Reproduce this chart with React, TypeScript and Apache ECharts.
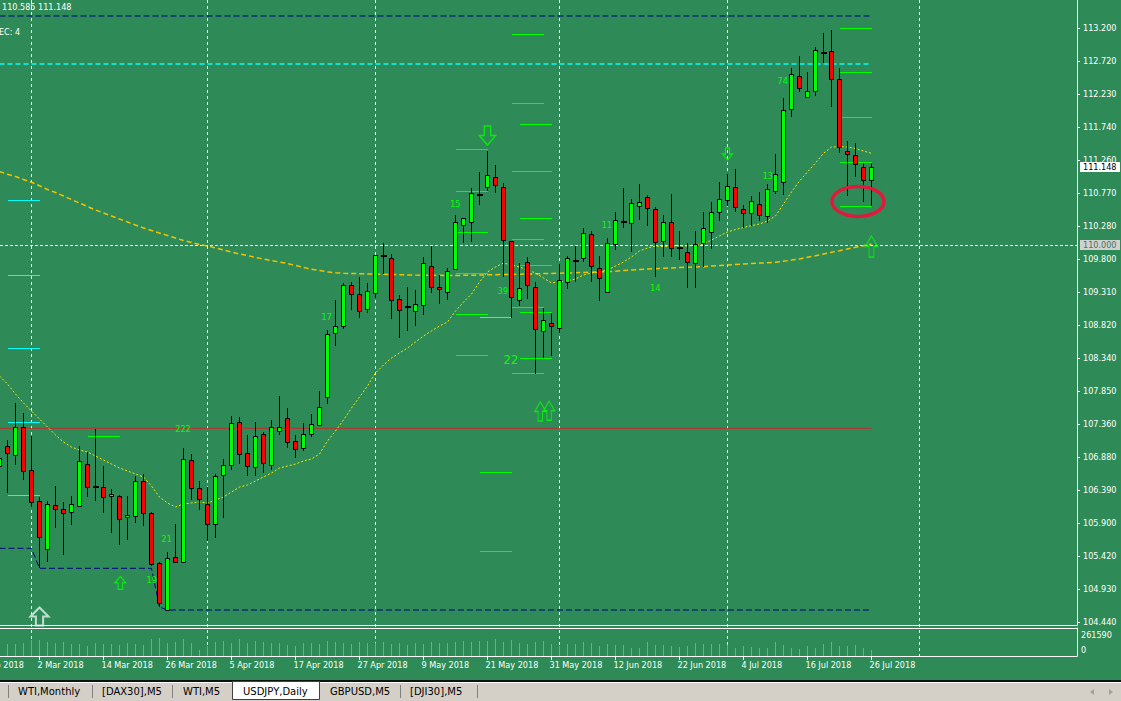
import { useEffect, useRef } from "react";
import * as echarts from "echarts";

// ---------- DATA (bar index k: -1 = 23 Feb 2018 ... 108 = 26 Jul 2018) ----------
const FIRST_BAR = -1;

const opens = [
  106.735, 107.040, 106.897, 107.316, 106.686, 106.229, 105.516, 106.165, 106.106, 106.062,
  106.155, 106.770, 106.440, 106.440, 106.292, 106.303, 105.988, 106.012, 106.524, 106.056,
  105.310, 104.621, 105.398, 105.334, 106.833, 106.416, 106.185, 105.885, 106.602, 106.755,
  107.389, 106.932, 106.735, 107.217, 106.770, 107.271, 107.448, 107.114, 107.000, 107.212,
  107.339, 107.758, 108.702, 108.814, 109.414, 109.277, 109.056, 109.292, 109.846, 109.808,
  109.203, 109.090, 109.026, 109.115, 109.690, 109.380, 109.321, 109.646, 110.289, 110.339,
  110.737, 110.849, 111.002, 110.855, 110.058, 109.183, 109.749, 109.380, 108.725, 108.849,
  108.784, 109.454, 109.768, 109.808, 110.162, 109.660, 109.301, 110.014, 110.339, 110.324,
  110.569, 110.707, 110.530, 110.053, 110.339, 109.964, 109.896, 109.728, 110.023, 110.191,
  110.480, 110.657, 110.855, 110.535, 110.471, 110.604, 110.421, 110.805, 110.937, 112.005,
  112.496, 112.191, 112.265, 112.840, 112.865, 112.448, 111.386, 111.327, 111.150, 110.952,
];
const highs = [
  106.951, 107.128, 107.670, 107.522, 107.187, 106.292, 106.229, 106.450, 106.214, 106.303,
  107.040, 106.956, 107.291, 106.745, 106.406, 106.310, 106.303, 106.597, 106.627, 106.071,
  105.329, 105.472, 105.890, 107.006, 106.922, 106.524, 106.431, 106.627, 106.844, 107.482,
  107.472, 107.202, 107.394, 107.251, 107.423, 107.777, 107.596, 107.202, 107.384, 107.512,
  107.846, 108.751, 109.193, 109.448, 109.454, 109.532, 109.439, 109.860, 110.029, 109.871,
  109.262, 109.380, 109.336, 109.823, 109.994, 109.562, 109.660, 110.442, 110.400, 110.849,
  111.076, 111.395, 111.184, 110.914, 110.060, 109.734, 109.823, 109.454, 109.070, 109.006,
  109.724, 109.842, 109.989, 110.250, 110.210, 109.842, 110.103, 110.486, 110.845, 110.678,
  110.904, 110.741, 110.560, 110.446, 110.756, 110.210, 110.029, 110.210, 110.491, 110.643,
  110.929, 111.051, 111.125, 110.594, 110.727, 110.786, 110.904, 111.346, 112.167, 112.610,
  112.791, 112.551, 112.919, 113.126, 113.175, 112.610, 111.538, 111.504, 111.209, 111.209,
];
const lows = [
  106.686, 106.351, 106.760, 106.538, 106.145, 105.236, 105.334, 105.835, 105.432, 105.875,
  106.136, 106.292, 106.233, 106.047, 105.761, 105.580, 105.654, 105.909, 105.865, 105.270,
  104.666, 104.621, 105.310, 105.310, 106.244, 106.096, 105.639, 105.679, 105.974, 106.686,
  106.770, 106.597, 106.597, 106.637, 106.686, 107.202, 107.006, 106.867, 106.970, 107.168,
  107.339, 107.655, 108.519, 108.770, 109.045, 108.932, 109.006, 109.222, 109.581, 108.913,
  108.637, 108.736, 108.809, 108.976, 109.301, 109.134, 109.193, 109.635, 110.029, 110.053,
  110.594, 110.800, 110.775, 109.536, 108.932, 109.104, 109.203, 108.102, 108.333, 108.367,
  108.711, 109.355, 109.463, 109.758, 109.463, 109.183, 109.290, 109.930, 110.259, 109.905,
  110.373, 110.284, 109.536, 109.831, 109.831, 109.783, 109.365, 109.365, 109.684, 109.945,
  110.362, 110.579, 110.491, 110.250, 110.284, 110.358, 110.333, 110.756, 110.741, 111.896,
  112.265, 112.190, 112.201, 112.684, 112.044, 111.365, 110.727, 111.011, 110.642, 110.585,
];
const closes = [
  106.858, 106.932, 107.316, 106.661, 106.219, 105.702, 106.180, 106.106, 106.047, 106.180,
  106.819, 106.431, 106.440, 106.292, 106.328, 105.959, 106.022, 106.524, 106.047, 105.310,
  104.720, 105.384, 105.319, 106.848, 106.416, 106.254, 105.885, 106.593, 106.755, 107.375,
  106.917, 106.735, 107.187, 106.785, 107.324, 107.324, 107.095, 106.991, 107.212, 107.360,
  107.610, 108.687, 108.805, 109.414, 109.286, 109.020, 109.326, 109.852, 109.846, 109.188,
  109.041, 109.090, 109.129, 109.734, 109.380, 109.345, 109.625, 110.339, 110.398, 110.766,
  110.737, 111.032, 110.884, 110.073, 109.227, 109.365, 109.404, 108.761, 108.894, 108.799,
  109.492, 109.808, 109.768, 110.177, 109.684, 109.513, 110.029, 110.368, 110.339, 110.619,
  110.634, 110.545, 110.044, 110.339, 109.955, 109.964, 109.749, 110.014, 110.250, 110.486,
  110.678, 110.870, 110.560, 110.471, 110.648, 110.436, 110.825, 111.051, 111.995, 112.521,
  112.324, 112.275, 112.875, 112.840, 112.456, 111.445, 111.336, 111.194, 110.952, 111.148,
];
// volume, thousands of ticks
const volumes = [
  120, 115, 115, 125, 155, 155, 135, 125, 142, 115,
  115, 95, 125, 115, 115, 105, 125, 115, 105, 165,
  175, 125, 135, 165, 125, 55, 95, 135, 145, 125,
  165, 125, 145, 135, 125, 125, 105, 95, 125, 130,
  120, 150, 140, 125, 120, 135, 125, 130, 140, 115,
  130, 110, 125, 120, 135, 125, 130, 140, 150, 135,
  150, 145, 165, 140, 160, 130, 120, 137, 144, 119,
  100, 119, 119, 137, 130, 100, 119, 107, 107, 81,
  81, 137, 107, 107, 100, 93, 100, 130, 119, 119,
  119, 107, 81, 100, 93, 81, 81, 137, 107, 81,
  70, 100, 81, 119, 137, 100, 100, 107, 81, 60,
];
const fastMA = [
  108.072, 107.954, 107.807, 107.674, 107.556, 107.438, 107.320, 107.202, 107.099, 107.025,
  106.981, 106.951, 106.892, 106.833, 106.774, 106.715, 106.671, 106.627, 106.583, 106.450,
  106.288, 106.199, 106.140, 106.185, 106.199, 106.214, 106.199, 106.243, 106.288, 106.361,
  106.435, 106.465, 106.524, 106.583, 106.642, 106.715, 106.745, 106.774, 106.819, 106.848,
  106.922, 107.114, 107.261, 107.423, 107.600, 107.762, 107.925, 108.116, 108.234, 108.338,
  108.411, 108.485, 108.574, 108.662, 108.736, 108.809, 108.868, 109.031, 109.163, 109.281,
  109.458, 109.606, 109.680, 109.739, 109.709, 109.680, 109.635, 109.591, 109.517, 109.444,
  109.458, 109.473, 109.503, 109.562, 109.591, 109.606, 109.635, 109.694, 109.753, 109.827,
  109.916, 109.960, 109.989, 109.980, 109.990, 109.990, 109.990, 110.000, 110.019, 110.078,
  110.137, 110.196, 110.233, 110.262, 110.289, 110.314, 110.358, 110.432, 110.609, 110.786,
  110.948, 111.081, 111.213, 111.356, 111.449, 111.454, 111.449, 111.427, 111.390, 111.356,
];
const slowMA = [
  111.088, 111.047, 111.014, 110.970, 110.929, 110.878, 110.822, 110.778, 110.727, 110.675,
  110.623, 110.572, 110.520, 110.476, 110.432, 110.387, 110.343, 110.299, 110.255, 110.218,
  110.181, 110.144, 110.107, 110.070, 110.041, 110.011, 109.989, 109.960, 109.930, 109.901,
  109.871, 109.849, 109.820, 109.798, 109.775, 109.753, 109.731, 109.702, 109.672, 109.646,
  109.628, 109.609, 109.594, 109.587, 109.584, 109.581, 109.578, 109.575, 109.572, 109.569,
  109.566, 109.563, 109.560, 109.559, 109.557, 109.556, 109.554, 109.554, 109.556, 109.557,
  109.560, 109.565, 109.566, 109.569, 109.570, 109.573, 109.576, 109.579, 109.582, 109.585,
  109.587, 109.591, 109.594, 109.599, 109.603, 109.606, 109.610, 109.618, 109.627, 109.635,
  109.641, 109.649, 109.654, 109.660, 109.666, 109.672, 109.677, 109.680, 109.684, 109.693,
  109.700, 109.709, 109.716, 109.724, 109.731, 109.737, 109.743, 109.749, 109.765, 109.781,
  109.798, 109.823, 109.846, 109.871, 109.896, 109.920, 109.945, 109.970, 109.994, 110.019,
];
// channel: [bar, price] breakpoints
const channelHigh = [[-1, 113.381], [108, 113.381]];
const channelLow = [[-1, 105.531], [3, 105.531], [4, 105.236], [18, 105.236], [19, 104.666], [20, 104.621], [108, 104.621]];
const cyanLevel = 112.673;
const redLevel = 107.301;
const hLevel = 110.0;
const lastPrice = 111.148;
// short level segments: [fromBar, toBar, price]
const greenSegments = [
  [63, 67, 113.101], [63, 67, 112.098], [63, 67, 111.095], [63, 67, 110.092], [63, 67, 109.085], [63, 67, 108.102],
  [64, 68, 111.774], [64, 68, 111.081], [64, 68, 110.398], [64, 68, 109.705], [64, 68, 109.012], [64, 68, 108.333],
  [56, 60, 111.415], [56, 60, 110.8], [56, 60, 110.191], [56, 60, 109.587], [56, 60, 108.986], [56, 60, 108.367],
  [59, 63, 106.656], [59, 63, 105.491],
  [104, 108, 113.2], [104, 108, 112.551], [104, 108, 111.887], [104, 108, 111.224], [104, 108, 110.579],
  [10, 14, 107.187],
];
const cyanSegments = [
  [0, 4, 110.653], [0, 4, 109.561], [0, 4, 108.481], [0, 4, 107.389], [0, 4, 106.317], [59, 63, 108.938],
];
// arrows: [bar, price]
const bigDownArrows = [[60, 111.619]];
const smallDownArrows = [[90, 111.346]];
const tallUpArrows = [[108, 109.982]];
const doubleUpArrows = [[66.6, 107.549], [67.7, 107.56]];
const smallUpArrows = [[14.1, 105.02]];
const whiteUpArrows = [[4, 104.525]];
// text marks: [text, bar, price]
const numberMarks = [
  ["15", 55.98, 110.609], ["17", 39.9, 108.942], ["39", 61.94, 109.326], ["14", 81.0, 109.374],
  ["11", 74.94, 110.299], ["13", 95.04, 111.022], ["74", 96.91, 112.422], ["21", 19.9, 105.664],
  ["19", 18.03, 105.064], ["222", 21.94, 107.29],
];
const bigNumberMarks = [["22", 62.94, 108.316]];
const circleMark = [106.31, 110.646];

const yTicks = [113.2, 112.72, 112.23, 111.74, 111.26, 110.77, 110.28, 109.8, 109.31, 108.82, 108.34, 107.85, 107.36, 106.88, 106.39, 105.9, 105.42, 104.93, 104.44];
const xTickBars = [-4, 4, 12, 20, 28, 36, 44, 52, 60, 68, 76, 84, 92, 100, 108];
const xTickLabels = ["20 Feb 2018", "2 Mar 2018", "14 Mar 2018", "26 Mar 2018", "5 Apr 2018", "17 Apr 2018", "27 Apr 2018", "9 May 2018", "21 May 2018", "31 May 2018", "12 Jun 2018", "22 Jun 2018", "4 Jul 2018", "16 Jul 2018", "26 Jul 2018"];
const monthStartBars = [3, 25, 46, 69, 90, 114];
const volumeScaleLabels = ["261590", "0"];
const topInfo = "110.585 111.148";
const sideInfo = "EC: 4";
const tabs = ["WTI,Monthly", "[DAX30],M5", "WTI,M5", "USDJPY,Daily", "GBPUSD,M5", "[DJI30],M5"];

// ---------- LAYOUT / STYLE ----------
const BG = "#2E8B57";
const FONT = "'DejaVu Sans Condensed', 'Liberation Sans', sans-serif";
const DX = 40; // container starts 40px left of the page
const GRID_W = 1117; // plot right edge at page x 1077
const X_MIN = (-DX - 7.5) / 8;
const X_MAX = X_MIN + GRID_W / 8;
const Y_MIN = 104.4;
const Y_MAX = 113.617;

const UP = "path://M50,0 L100,50 L70,50 L70,100 L30,100 L30,50 L0,50 Z";
const DOWN = "path://M30,0 L70,0 L70,50 L100,50 L50,100 L0,50 L30,50 Z";

const bars = opens.map((o, i) => [FIRST_BAR + i, o, highs[i], lows[i], closes[i]]);
const vols = volumes.map((v, i) => [FIRST_BAR + i, v]);
const fast = fastMA.map((v, i) => [FIRST_BAR + i, v]);
const slow = slowMA.map((v, i) => [FIRST_BAR + i, v]);
const lastBar = FIRST_BAR + opens.length - 1;

const labelMap = new Map<string, string>();
xTickBars.forEach((b, i) => labelMap.set((b - 0.25).toFixed(2), xTickLabels[i]));

function arrowSeries(data: number[][], symbol: string, size: number[], color: string, bw = 1.5) {
  return {
    type: "scatter", xAxisIndex: 0, yAxisIndex: 0, silent: true, symbol, symbolSize: size,
    symbolKeepAspect: false, data,
    itemStyle: { color: "rgba(0,0,0,0)", borderColor: color, borderWidth: bw },
    z: 6,
  };
}
function textSeries(data: any[], size: number) {
  return {
    type: "scatter", xAxisIndex: 0, yAxisIndex: 0, silent: true, symbolSize: 1,
    itemStyle: { color: "rgba(0,0,0,0)" },
    data: data.map((d) => ({ name: d[0], value: [d[1], d[2]] })),
    label: { show: true, position: "inside", formatter: (p: any) => p.name, color: "#00FF00", opacity: 1, fontSize: size, fontFamily: FONT },
    z: 7,
  };
}
function segSeries(data: number[][], color: string) {
  return {
    type: "custom", xAxisIndex: 0, yAxisIndex: 0, silent: true, clip: true, data, z: 4,
    renderItem: (_p: any, api: any) => {
      const a = api.coord([api.value(0), api.value(2)]);
      const b = api.coord([api.value(1), api.value(2)]);
      const y = Math.floor(a[1]);
      return { type: "rect", shape: { x: Math.round(a[0]), y, width: Math.round(b[0] - a[0]), height: 1 }, style: { fill: color } };
    },
  };
}
function flatLine(data: number[][], color: string, dash: any, width = 1) {
  return {
    type: "line", xAxisIndex: 0, yAxisIndex: 0, silent: true, showSymbol: false, symbol: "none",
    data, lineStyle: { color, width, type: dash }, z: 3,
  };
}

const option: any = {
  animation: false,
  backgroundColor: BG,
  grid: [
    { left: 0, width: GRID_W, top: 0, height: 625 },
    { left: 0, width: GRID_W, top: 628, height: 28 },
  ],
  xAxis: [
    {
      type: "value", gridIndex: 0, min: X_MIN, max: X_MAX,
      axisLine: { show: true, onZero: false, lineStyle: { color: "#ffffff", width: 1 } },
      axisTick: { show: false }, axisLabel: { show: false }, splitLine: { show: false },
    },
    {
      type: "value", gridIndex: 1, min: X_MIN, max: X_MAX,
      axisLine: { show: true, onZero: false, lineStyle: { color: "#ffffff", width: 1 } },
      axisTick: { show: true, length: 4, lineStyle: { color: "#ffffff" }, customValues: xTickBars },
      axisLabel: {
        show: true, customValues: xTickBars.map((b) => b - 0.25), align: "left", margin: 4,
        color: "#ffffff", fontSize: 9, fontFamily: FONT,
        formatter: (v: number) => labelMap.get(v.toFixed(2)) ?? "",
      },
      splitLine: { show: false },
    },
  ],
  yAxis: [
    {
      type: "value", gridIndex: 0, position: "right", min: Y_MIN, max: Y_MAX,
      axisLine: { show: true, onZero: false, lineStyle: { color: "#ffffff", width: 1 } },
      axisTick: { show: true, length: 3, lineStyle: { color: "#ffffff" }, customValues: yTicks },
      axisLabel: {
        show: true, customValues: yTicks, margin: 6, color: "#ffffff", fontSize: 9, fontFamily: FONT,
        formatter: (v: number) => v.toFixed(3),
      },
      splitLine: { show: false },
    },
    {
      type: "value", gridIndex: 1, position: "right", min: 0, max: 275,
      axisLine: { show: true, onZero: false, lineStyle: { color: "#ffffff", width: 1 } },
      axisTick: { show: false }, axisLabel: { show: false }, splitLine: { show: false },
    },
  ],
  series: [
    {
      type: "custom", xAxisIndex: 1, yAxisIndex: 1, silent: true, clip: true, data: vols,
      renderItem: (_p: any, api: any) => {
        const a = api.coord([api.value(0), 0]);
        const b = api.coord([api.value(0), api.value(1)]);
        const x = Math.floor(a[0]);
        return { type: "rect", shape: { x, y: Math.round(b[1]), width: 1, height: Math.round(a[1] - b[1]) }, style: { fill: "#00FF00" } };
      },
    },
    flatLine(channelHigh, "#000080", [6, 3], 1),
    flatLine(channelLow, "#000080", [6, 3], 1),
    flatLine([[FIRST_BAR, cyanLevel], [lastBar, cyanLevel]], "#00FFFF", [5, 3], 1.5),
    flatLine([[FIRST_BAR, redLevel], [lastBar, redLevel]], "#C8282C", "solid", 1),
    {
      type: "line", xAxisIndex: 0, yAxisIndex: 0, silent: true, showSymbol: false, symbol: "none",
      data: slow, lineStyle: { color: "#F2C200", width: 1.5, type: [5, 3] }, z: 3,
    },
    {
      type: "line", xAxisIndex: 0, yAxisIndex: 0, silent: true, showSymbol: false, symbol: "none",
      data: fast, lineStyle: { color: "#FFE600", width: 1, type: [2, 2] }, z: 3,
    },
    segSeries(greenSegments, "#00FF00"),
    segSeries(cyanSegments, "#00FFFF"),
    {
      type: "custom", xAxisIndex: 0, yAxisIndex: 0, silent: true, clip: true, data: bars, z: 5,
      renderItem: (_p: any, api: any) => {
        const k = api.value(0);
        const o = api.value(1), h = api.value(2), l = api.value(3), c = api.value(4);
        const pO = api.coord([k, o]);
        const pC = api.coord([k, c]);
        const pH = api.coord([k, h]);
        const pL = api.coord([k, l]);
        const x = Math.floor(pO[0]) + 0.5;
        const top = Math.min(pO[1], pC[1]);
        const bot = Math.max(pO[1], pC[1]);
        const children: any[] = [
          { type: "line", shape: { x1: x, y1: Math.round(pH[1]), x2: x, y2: Math.round(pL[1]) }, style: { stroke: "#000000", lineWidth: 1 } },
        ];
        if (bot - top < 1.5) {
          children.push({ type: "rect", shape: { x: x - 2.5, y: Math.round(top) - 1, width: 6, height: 2 }, style: { fill: "#000000" } });
        } else {
          const y0 = Math.round(top) + 0.5;
          const hh = Math.max(1, Math.round(bot - top));
          children.push({
            type: "rect", shape: { x: x - 2, y: y0, width: 4, height: hh },
            style: { fill: c >= o ? "#00FF00" : "#FF0000", stroke: "#000000", lineWidth: 1 },
          });
        }
        return { type: "group", children };
      },
    },
    arrowSeries(bigDownArrows, DOWN, [16, 19], "#00FF00", 1.5),
    arrowSeries(smallDownArrows, DOWN, [10, 12], "#00FF00", 1.2),
    arrowSeries(tallUpArrows, UP, [12, 21], "#00FF00", 1.2),
    arrowSeries(doubleUpArrows, UP, [11, 19], "#00FF00", 1.2),
    arrowSeries(smallUpArrows, UP, [11, 13], "#00FF00", 1.2),
    arrowSeries(whiteUpArrows, UP, [18, 18], "#E8F0F0", 2),
    textSeries(numberMarks, 9),
    textSeries(bigNumberMarks, 13),
  ],
};

export default function App() {
  const ref = useRef<HTMLDivElement>(null);
  useEffect(() => {
    const chart = echarts.init(ref.current!, null, { renderer: "svg" });
    chart.setOption(option);
    const P = (k: number, v: number) => chart.convertToPixel({ xAxisIndex: 0, yAxisIndex: 0 }, [k, v]) as number[];
    const g: any[] = [];
    const R = 1077 + DX; // plot right edge in container coords
    monthStartBars.forEach((b) => {
      const x = Math.floor(P(b, hLevel)[0]) + 0.5;
      g.push({ type: "line", silent: true, z: 1, shape: { x1: x, y1: 0, x2: x, y2: 656 }, style: { stroke: "#ffffff", lineWidth: 1, lineDash: [3, 3] } });
    });
    const yh = Math.floor(P(0, hLevel)[1]) + 0.5;
    g.push({ type: "line", silent: true, z: 2, shape: { x1: DX, y1: yh, x2: R, y2: yh }, style: { stroke: "#ffffff", lineWidth: 1, lineDash: [3, 2] } });
    g.push({ type: "line", silent: true, z: 10, shape: { x1: DX, y1: 628.5, x2: R, y2: 628.5 }, style: { stroke: "#ffffff", lineWidth: 1 } });
    const yl = P(0, lastPrice)[1];
    g.push({ type: "rect", silent: true, z: 20, shape: { x: R + 3, y: Math.round(yl) - 5, width: 40, height: 10 }, style: { fill: "#ffffff" } });
    g.push({ type: "text", silent: true, z: 21, x: R + 6, y: yl, style: { text: lastPrice.toFixed(3), fill: "#000000", font: `9px ${FONT}`, verticalAlign: "middle" } });
    const y110 = P(0, hLevel)[1];
    g.push({ type: "rect", silent: true, z: 20, shape: { x: R + 3, y: Math.round(y110) - 5, width: 40, height: 10 }, style: { fill: "#D0D0D0" } });
    g.push({ type: "text", silent: true, z: 21, x: R + 6, y: y110, style: { text: hLevel.toFixed(3), fill: "#3A7A5A", font: `9px ${FONT}`, verticalAlign: "middle" } });
    g.push({ type: "text", silent: true, z: 21, x: R + 4, y: 634.5, style: { text: volumeScaleLabels[0], fill: "#ffffff", font: `9px ${FONT}`, verticalAlign: "middle" } });
    g.push({ type: "text", silent: true, z: 21, x: R + 4, y: 650, style: { text: volumeScaleLabels[1], fill: "#ffffff", font: `9px ${FONT}`, verticalAlign: "middle" } });
    g.push({ type: "text", silent: true, z: 21, x: DX + 2, y: 7, style: { text: topInfo, fill: "#ffffff", font: `9px ${FONT}`, verticalAlign: "middle" } });
    g.push({ type: "text", silent: true, z: 21, x: DX - 1, y: 32, style: { text: sideInfo, fill: "#ffffff", font: `9px ${FONT}`, verticalAlign: "middle" } });
    const ce = P(circleMark[0], circleMark[1]);
    g.push({ type: "ellipse", silent: true, z: 22, shape: { cx: ce[0], cy: ce[1], rx: 26, ry: 15 }, style: { fill: "none", stroke: "#E2183C", lineWidth: 3.5 } });
    // tab bar
    g.push({ type: "rect", silent: true, z: 30, shape: { x: 0, y: 680, width: 1121 + DX, height: 2 }, style: { fill: "#101010" } });
    g.push({ type: "rect", silent: true, z: 30, shape: { x: 0, y: 682, width: 1121 + DX, height: 19 }, style: { fill: "#D4D0C8" } });
    g.push({ type: "line", silent: true, z: 31, shape: { x1: 0, y1: 682.5, x2: 1121 + DX, y2: 682.5 }, style: { stroke: "#ffffff", lineWidth: 1 } });
    const tabX = [18, 102, 183, 243, 330, 410];
    const sepX = [8, 92, 172, 400, 477];
    sepX.forEach((x) => {
      g.push({ type: "line", silent: true, z: 31, shape: { x1: DX + x + 0.5, y1: 685, x2: DX + x + 0.5, y2: 698 }, style: { stroke: "#808080", lineWidth: 1 } });
    });
    g.push({ type: "rect", silent: true, z: 31, shape: { x: DX + 232.5, y: 681.5, width: 87, height: 18 }, style: { fill: "#ffffff", stroke: "#404040", lineWidth: 1 } });
    tabs.forEach((t, i) => {
      g.push({ type: "text", silent: true, z: 32, x: DX + tabX[i], y: 691, style: { text: t, fill: "#000000", font: `10px 'DejaVu Sans', sans-serif`, verticalAlign: "middle" } });
    });
    g.push({ type: "polygon", silent: true, z: 32, shape: { points: [[DX + 1094, 689], [DX + 1090, 692], [DX + 1094, 695]] }, style: { fill: "#A0A0A0" } });
    g.push({ type: "polygon", silent: true, z: 32, shape: { points: [[DX + 1109, 689], [DX + 1113, 692], [DX + 1109, 695]] }, style: { fill: "#A0A0A0" } });
    chart.setOption({ graphic: g });
    return () => chart.dispose();
  }, []);
  return <div ref={ref} style={{ position: "fixed", left: -DX, top: 0, width: 1121 + DX, height: 701, background: BG }} />;
}
